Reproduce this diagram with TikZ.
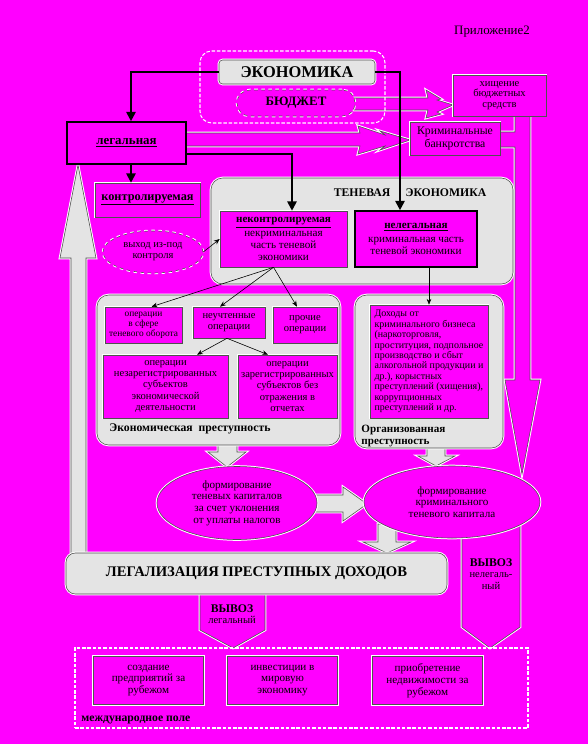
\documentclass[tikz,border=0pt]{standalone}
\usepackage{fontspec}
\setmainfont{Liberation Serif}
\usetikzlibrary{shapes.geometric,arrows.meta,calc}
\newcommand{\sizeto}[2]{\fontsize{#1}{#2}\selectfont}

\begin{document}
\begin{tikzpicture}[x=0.03cm,y=-0.03cm,
  every node/.style={font=\sizeto{9}{9.6}, text=black, align=center, inner sep=1pt},
  boxsize/.style 2 args={minimum width=#1*0.03cm, minimum height=#2*0.03cm},
  halo/.style={preaction={draw=white, line width=2.2pt}},
  panel/.style={halo, draw=edgegray, line width=0.5pt, fill=panelgray, rounded corners=10pt, inner sep=0pt},
  termbox/.style={halo, draw=edgegray, line width=0.5pt, fill=scanpink, rectangle},
  keybox/.style={termbox, draw=black, line width=1.4pt},
  oval/.style={halo, draw=edgegray, line width=0.5pt, fill=scanpink, ellipse, inner sep=0pt},
  frame/.style={draw=white, line width=0.9pt, dash pattern=on 3pt off 1.5pt},
  link/.style={draw=black, line width=0.5pt, -{Stealth[length=5pt,width=4pt]}},
  mainlink/.style={draw=black, line width=1.6pt, -{Triangle[length=8pt,width=8pt]}},
  blockarrow/.style={halo, draw=edgegray, line width=0.5pt, fill=panelgray},
  hollowarrow/.style={halo, draw=edgegray, line width=0.5pt, fill=scanpink}]
\definecolor{scanpink}{RGB}{255,0,255}
\definecolor{panelgray}{RGB}{228,228,228}
\definecolor{edgegray}{RGB}{80,80,80}
% Page
\fill[scanpink] (0,0) rectangle (588,744);
\useasboundingbox (0,0) rectangle (588,744);
% Hollow arrows (drawn first, boxes sit on top)
\draw[hollowarrow] (515,114) -- (515,132) -- (498,132) -- (498,147) -- (515,147) -- (515,380)
  -- (505,380) -- (522,474) -- (540,380) -- (530,380) -- (530,114) -- cycle;
\draw[hollowarrow] (354,98) -- (428,98) -- (426,90) -- (441,99) -- (437,100) -- (453,105)
  -- (437,112) -- (441,114) -- (426,118) -- (428,110) -- (354,110) -- cycle;
\draw[hollowarrow] (186,133) -- (360,133) -- (358,126) -- (385,135) -- (380,131) -- (410,140)
  -- (380,150) -- (385,146) -- (358,154) -- (360,146) -- (186,146) -- cycle;
\draw[hollowarrow] (200,590) -- (200,630) -- (233,648) -- (265,630) -- (265,590) -- cycle;
\draw[hollowarrow] (462,520) -- (462,627) -- (490,648) -- (520,627) -- (520,520) -- cycle;
% Block arrows
\draw[blockarrow] (71,556) -- (71,258) -- (60,258) -- (78,165) -- (96,258) -- (86,258) -- (86,556) -- cycle;
\draw[blockarrow] (218,440) -- (218,452) -- (208,452) -- (227,467) -- (246,452) -- (237,452) -- (237,440) -- cycle;
\draw[blockarrow] (427,444) -- (427,456) -- (418,456) -- (436,466) -- (455,456) -- (445,456) -- (445,444) -- cycle;
\draw[blockarrow] (310,495) -- (343,495) -- (343,487) -- (367,504) -- (343,521) -- (343,512) -- (310,512) -- cycle;
\draw[blockarrow] (378,524) -- (378,542) -- (363,542) -- (387,553) -- (411,542) -- (396,542) -- (396,524) -- cycle;

\node[font=\sizeto{11}{12}] (appx) at (492,32) {Приложение2};
% Economy and budget
\node[frame, rounded corners=10pt, boxsize={185}{72}] (econframe) at (292.5,87) {};
\node[panel, rounded corners=3pt, boxsize={156}{24}, font=\sizeto{14}{14}\bfseries] (econ) at (297,72) {ЭКОНОМИКА};
\node[termbox, dashed, rounded corners=11pt, boxsize={118}{26}, font=\sizeto{11}{11}\bfseries] (budget) at (296,103) {БЮДЖЕТ};
\node[termbox, boxsize={93}{41}, font=\sizeto{9}{9.2}] (theft) at (499.5,95.5) {хищение\\бюджетных\\средств};
\node[termbox, boxsize={90}{33}, font=\sizeto{10}{11}] (bankr) at (455,138.5) {Криминальные\\банкротства};
\node[keybox, boxsize={119}{42}, font=\sizeto{11}{11}\bfseries] (legal) at (126.5,143) {\underline{легальная}};
\node[termbox, boxsize={105}{34}, font=\sizeto{10.5}{11}\bfseries] (ctrl) at (147.5,200) {\underline{контролируемая}};
\node[oval, dashed, boxsize={100}{42}] (escape) at (153,252) {выход из-под\\контроля};
% Shadow economy
\node[panel, boxsize={302}{106}] (shadow) at (362,231) {};
\node[font=\sizeto{10}{10}\bfseries] (shadowtitle) at (410,193) {ТЕНЕВАЯ\hspace{1.3em}ЭКОНОМИКА};
\node[termbox, boxsize={127}{56}, font=\sizeto{9.5}{10}] (unctrl) at (283.5,239)
  {\textbf{\underline{неконтролируемая}}\\[2pt]некриминальная\\часть теневой\\экономики};
\node[keybox, boxsize={122}{56}, font=\sizeto{9.5}{10}] (illegal) at (416,239)
  {\textbf{\underline{нелегальная}}\\[2pt]криминальная часть\\теневой экономики};
% Economic crime
\node[panel, boxsize={243}{150}] (econcrime) at (218.5,370) {};
\node[anchor=west, font=\sizeto{10}{10}\bfseries] (econcrimelabel) at (108,429) {Экономическая\ \ преступность};
\node[termbox, boxsize={77}{36}, font=\sizeto{8}{8.6}] (op1) at (143.5,325) {операции\\в сфере\\теневого оборота};
\node[termbox, boxsize={72}{31}] (op2) at (229,322.5) {неучтенные\\операции};
\node[termbox, boxsize={64}{36}] (op3) at (305,325) {прочие\\операции};
\node[termbox, boxsize={125}{63}] (op4) at (165.5,386.5)
  {операции\\незарегистрированных\\субъектов\\экономической\\деятельности};
\node[termbox, boxsize={99}{63}] (op5) at (287.5,386.5)
  {операции\\зарегистрированных\\субъектов без\\отражения в\\отчетах};
% Organised crime
\node[panel, boxsize={148}{153}] (orgcrime) at (429,371.5) {};
\node[termbox, boxsize={118}{113}, align=left, font=\sizeto{8.5}{8.9}] (income) at (429,361.5)
  {Доходы от\\криминального бизнеса\\(наркоторговля,\\проституция, подпольное\\производство и сбыт\\алкогольной продукции и\\др.), корыстных\\преступлений (хищения),\\коррупционных\\преступлений и др.};
\node[anchor=west, align=left, font=\sizeto{9.5}{10}\bfseries] (orglabel) at (360,436) {Организованная\\преступность};
% Shadow capital
\node[oval, boxsize={160}{73}, font=\sizeto{9.5}{10}] (taxcap) at (237,503)
  {формирование\\теневых капиталов\\за счет уклонения\\от уплаты налогов};
\node[oval, boxsize={176}{72}, font=\sizeto{9.5}{10}] (crimcap) at (452,502)
  {формирование\\криминального\\теневого капитала};
% Legalisation and export
\node[panel, rounded corners=8pt, boxsize={381}{41}, font=\sizeto{12.5}{13}\bfseries] (legaliz) at (256.5,573.5)
  {ЛЕГАЛИЗАЦИЯ ПРЕСТУПНЫХ ДОХОДОВ};
\node (outlegal) at (232,614) {\textbf{\sizeto{10}{10}ВЫВОЗ}\\легальный};
\node (outillegal) at (491,574) {\textbf{\sizeto{10}{10}ВЫВОЗ}\\нелегаль-\\ный};
% International field
\node[frame, boxsize={453}{80}] (world) at (301.5,688) {};
\foreach \x/\txt [count=\i] in {148.5/{создание\\предприятий за\\рубежом},
  282.5/{инвестиции в\\мировую\\экономику},
  427.5/{приобретение\\недвижимости за\\рубежом}} {
  \node[termbox, boxsize={110}{48}, font=\sizeto{9.5}{10}] (abroad\i) at (\x,680.5) {\txt};
}
\node[anchor=west, font=\sizeto{10}{10}\bfseries] (worldlabel) at (80,720) {международное поле};
% Connectors
\coordinate (legdrop) at ($(legal.south)+(4.5,0)$);
\draw[mainlink] (econ.west) -| ($(legal.north)+(4.5,0)$);
\draw[mainlink] (econ.east) -| ($(illegal.north)+(-16,0)$);
\draw[mainlink] ($(legal.east)+(0,11)$) -| ($(unctrl.north)+(8.5,0)$);
\draw[mainlink] (legdrop) -- (legdrop |- ctrl.north);
\draw[link] (escape.east) -- (unctrl.west);
\draw[link] ($(unctrl.south)+(-10,0)$) -- ($(op1.north)+(8,0)$);
\draw[link] ($(unctrl.south)+(-10,0)$) -- ($(op2.north)+(-9,0)$);
\draw[link] ($(unctrl.south)+(-10,0)$) -- ($(op3.north)+(-8,0)$);
\draw[link] ($(op2.south)+(-2,0)$) -- (197,0 |- op4.north);
\draw[link] ($(op2.south)+(-2,0)$) -- (268,0 |- op5.north);
\draw[link] (illegal.south -| income.north) -- (income.north);
\end{tikzpicture}
\end{document}
